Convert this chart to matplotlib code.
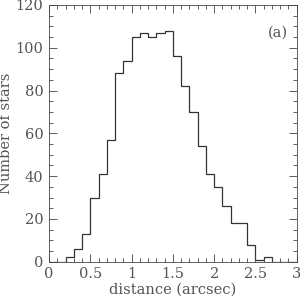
import matplotlib.pyplot as plt
import numpy as np
from matplotlib.ticker import MultipleLocator

# bin edges (arcsec) and counts per 0.1 arcsec bin
bin_edges = np.round(np.arange(0.0, 3.01, 0.1), 2)
counts = [0, 0, 2, 6, 13, 30, 41, 57, 88, 94,
          105, 107, 105, 107, 108, 96, 82, 70, 54, 41,
          35, 26, 18, 18, 8, 1, 2, 0, 0, 0]

plt.rcParams['font.family'] = ['DejaVu Serif']
plt.rcParams['font.size'] = 10.5

fig = plt.figure(figsize=(3.0, 3.01), dpi=100)
ax = fig.add_axes([49 / 300, 1 - 261.7 / 301, 247.7 / 300, 256.7 / 301])

ax.stairs(counts, bin_edges, color='#333333', linewidth=0.9)

ax.set_xlim(0, 3)
ax.set_ylim(0, 120)
ax.xaxis.set_major_locator(MultipleLocator(0.5))
ax.xaxis.set_minor_locator(MultipleLocator(0.1))
ax.yaxis.set_major_locator(MultipleLocator(20))
ax.yaxis.set_minor_locator(MultipleLocator(5))
ax.xaxis.set_major_formatter(plt.FuncFormatter(lambda v, p: f'{v:g}'))
ax.tick_params(which='both', direction='in', top=True, right=True,
               colors='#444444', labelcolor='#555555', width=0.6)
ax.tick_params(which='major', length=6, pad=4)
ax.tick_params(which='minor', length=3)
for s in ax.spines.values():
    s.set_linewidth(0.6)
    s.set_color('#444444')

ax.set_xlabel('distance (arcsec)', color='#555555', labelpad=1)
ax.set_ylabel('Number of stars', color='#555555', labelpad=2)
ax.text(2.77, 107, '(a)', ha='center', va='center', color='#555555')

plt.savefig('out.png', dpi=100)
